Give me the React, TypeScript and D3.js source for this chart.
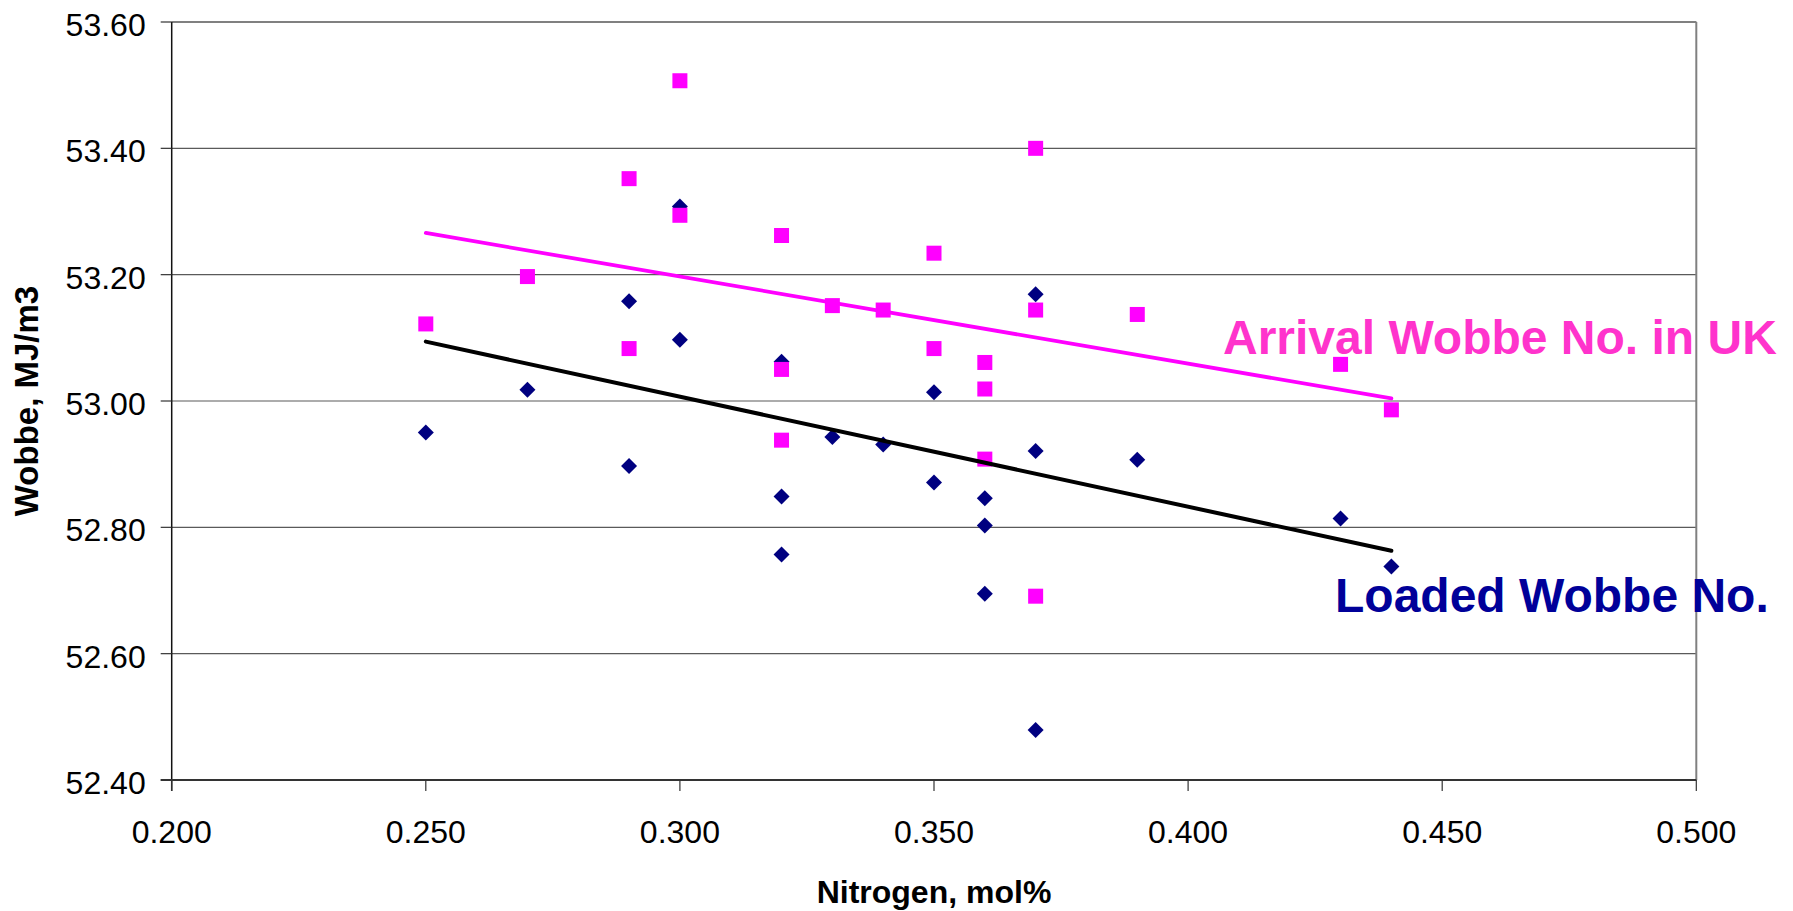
import React from "react";
import * as d3 from "d3";

const xTicks = [0.2, 0.25, 0.3, 0.35, 0.4, 0.45, 0.5];
const yTicks = [52.4, 52.6, 52.8, 53.0, 53.2, 53.4, 53.6];

const arrivalX = [0.25, 0.27, 0.29, 0.29, 0.30, 0.30, 0.32, 0.32, 0.32, 0.33, 0.34, 0.35, 0.35, 0.36, 0.36, 0.36, 0.37, 0.37, 0.37, 0.39, 0.43, 0.44];
const arrivalY = [53.122, 53.197, 53.352, 53.083, 53.507, 53.294, 53.262, 53.050, 52.938, 53.151, 53.144, 53.234, 53.083, 53.061, 53.019, 52.908, 53.400, 53.144, 52.691, 53.137, 53.058, 52.986];

const loadedX = [0.25, 0.27, 0.29, 0.29, 0.30, 0.30, 0.32, 0.32, 0.32, 0.33, 0.34, 0.35, 0.35, 0.36, 0.36, 0.36, 0.37, 0.37, 0.37, 0.39, 0.43, 0.44];
const loadedY = [52.950, 53.018, 53.158, 52.897, 53.308, 53.097, 53.062, 52.849, 52.757, 52.943, 52.931, 53.014, 52.871, 52.846, 52.803, 52.695, 53.169, 52.921, 52.479, 52.907, 52.814, 52.738];

const arrivalTrendX = [0.25, 0.44];
const arrivalTrendY = [53.266, 53.004];
const loadedTrendX = [0.25, 0.44];
const loadedTrendY = [53.094, 52.763];

const FONT = "'Liberation Sans', Arial, Helvetica, sans-serif";

export default function App() {
  const W = 1793;
  const H = 911;
  const left = 171.7;
  const right = 1696.3;
  const top = 22;
  const bottom = 780;

  const x = d3.scaleLinear().domain([0.2, 0.5]).range([left, right]);
  const y = d3.scaleLinear().domain([52.4, 53.6]).range([bottom, top]);

  const line = d3
    .line<[number, number]>()
    .x((d) => x(d[0]))
    .y((d) => y(d[1]));

  const arrivalPts = arrivalX.map((v, i) => [v, arrivalY[i]] as [number, number]);
  const loadedPts = loadedX.map((v, i) => [v, loadedY[i]] as [number, number]);
  const arrivalTrend = arrivalTrendX.map((v, i) => [v, arrivalTrendY[i]] as [number, number]);
  const loadedTrend = loadedTrendX.map((v, i) => [v, loadedTrendY[i]] as [number, number]);

  const sq = 7.5;
  const dm = 8;

  return (
    <div style={{ position: "absolute", left: 0, top: 0 }}>
      <svg width={W} height={H} style={{ display: "block", background: "#fff" }} fontFamily={FONT}>
        {/* gridlines */}
        {yTicks.map((t) => (
          <line key={"g" + t} x1={left} x2={right} y1={y(t)} y2={y(t)} stroke="#5a5a5a" strokeWidth={1.2} />
        ))}
        {/* plot border top/right */}
        <line x1={left} x2={right} y1={top} y2={top} stroke="#808080" strokeWidth={2} />
        <line x1={right} x2={right} y1={top} y2={bottom} stroke="#808080" strokeWidth={2} />
        {/* axes */}
        <line x1={left} x2={left} y1={top} y2={bottom + 11} stroke="#111" strokeWidth={1.5} />
        <line x1={left - 11} x2={right} y1={bottom} y2={bottom} stroke="#333" strokeWidth={2} />
        {yTicks.map((t) => (
          <g key={"yt" + t}>
            <line x1={left - 11} x2={left} y1={y(t)} y2={y(t)} stroke="#333" strokeWidth={1.2} />
            <text x={left - 26} y={y(t) + 14} textAnchor="end" fontSize={32} fill="#000">
              {t.toFixed(2)}
            </text>
          </g>
        ))}
        {xTicks.map((t) => (
          <g key={"xt" + t}>
            <line x1={x(t)} x2={x(t)} y1={bottom} y2={bottom + 11} stroke="#333" strokeWidth={1.2} />
            <text x={x(t)} y={843} textAnchor="middle" fontSize={32} fill="#000">
              {t.toFixed(3)}
            </text>
          </g>
        ))}
        {/* axis titles */}
        <text x={(left + right) / 2} y={903} textAnchor="middle" fontSize={32} fontWeight="bold" fill="#000">
          Nitrogen, mol%
        </text>
        <text
          transform={`translate(38, ${(top + bottom) / 2}) rotate(-90)`}
          textAnchor="middle"
          fontSize={33}
          fontWeight="bold"
          fill="#000"
        >
          Wobbe, MJ/m3
        </text>

        {/* loaded diamonds */}
        {loadedPts.map((d, i) => (
          <path
            key={"l" + i}
            d={`M${x(d[0])},${y(d[1]) - dm}L${x(d[0]) + dm},${y(d[1])}L${x(d[0])},${y(d[1]) + dm}L${x(d[0]) - dm},${y(d[1])}Z`}
            fill="#000080"
          />
        ))}
        {/* arrival squares */}
        {arrivalPts.map((d, i) => (
          <rect key={"a" + i} x={x(d[0]) - sq} y={y(d[1]) - sq} width={sq * 2} height={sq * 2} fill="#FF00FF" />
        ))}

        {/* trendlines */}
        <path d={line(arrivalTrend) || ""} fill="none" stroke="#FF00FF" strokeWidth={3.8} strokeLinecap="round" />
        <path d={line(loadedTrend) || ""} fill="none" stroke="#000" strokeWidth={4} strokeLinecap="round" />

        {/* annotations */}
        <text x={1223} y={354} fontSize={48} fontWeight="bold" fill="#FF33CC">
          Arrival Wobbe No. in UK
        </text>
        <text x={1335} y={611.5} fontSize={48} fontWeight="bold" fill="#000099">
          Loaded Wobbe No.
        </text>
      </svg>
    </div>
  );
}
